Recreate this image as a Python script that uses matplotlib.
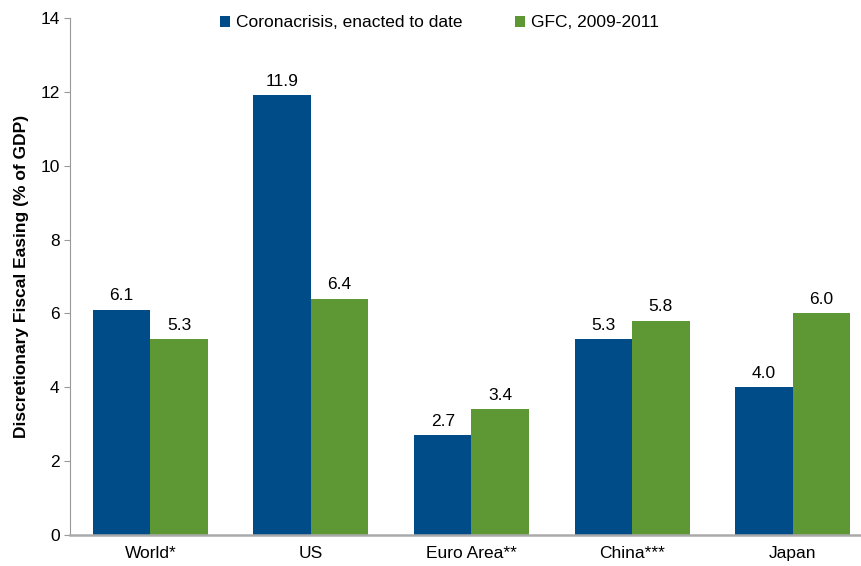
import numpy as np
import matplotlib
matplotlib.use("Agg")
import matplotlib.pyplot as plt

plt.rcParams["font.family"] = ["Liberation Sans", "DejaVu Sans"]

categories = ["World*", "US", "Euro Area**", "China***", "Japan"]
corona = [6.1, 11.9, 2.7, 5.3, 4.0]
gfc = [5.3, 6.4, 3.4, 5.8, 6.0]
series_names = ["Coronacrisis, enacted to date", "GFC, 2009-2011"]

blue = "#004C89"
green = "#5E9834"
fs = 12.5

fig = plt.figure(figsize=(8.61, 5.66), dpi=100)
# the plot area runs slightly past the right edge of the figure
ax = fig.add_axes([70 / 861, 0.0548, 803 / 861, 0.9135])

x = np.arange(len(categories))
w = 0.358
b1 = ax.bar(x - w / 2, corona, w, color=blue, label=series_names[0])
b2 = ax.bar(x + w / 2, gfc, w, color=green, label=series_names[1])

for bars, vals in ((b1, corona), (b2, gfc)):
    for r, v in zip(bars, vals):
        ax.text(r.get_x() + r.get_width() / 2, v + 0.18, f"{v:.1f}",
                ha="center", va="bottom", fontsize=fs)

ax.set_xlim(-0.5, len(categories) - 0.5)
ax.set_ylim(0, 14)
ax.set_yticks(range(0, 15, 2))
ax.set_xticks(x)
ax.set_xticklabels(categories, fontsize=fs)
ax.tick_params(axis="y", labelsize=fs, length=4, color="#999999", direction="out")
ax.tick_params(axis="x", length=0, pad=8)

for s in ("top", "right"):
    ax.spines[s].set_visible(False)
ax.spines["left"].set_color("#999999")
ax.spines["bottom"].set_color("#AAAAAA")
ax.spines["bottom"].set_linewidth(1.8)

ax.set_ylabel("Discretionary Fiscal Easing (% of GDP)", fontsize=fs,
              fontweight="bold", labelpad=8)

ax.legend(loc="upper center", bbox_to_anchor=(0.46, 1.035), ncol=2, frameon=False,
          fontsize=fs, handlelength=0.6, handleheight=0.6, handletextpad=0.35,
          columnspacing=3.0)

fig.savefig("out.png", dpi=100)
